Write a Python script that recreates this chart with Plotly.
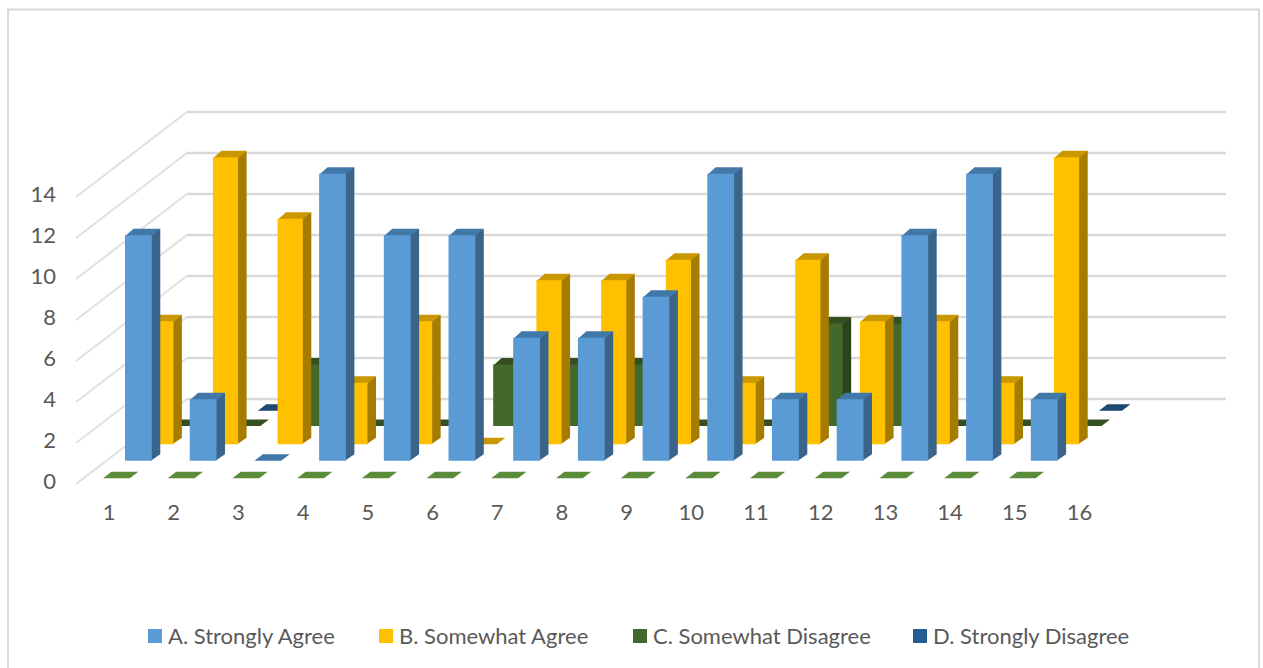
import plotly.graph_objects as go

# Survey responses per question, one list per answer option
QUESTIONS = list(range(1, 17))
STRONGLY_AGREE = [11, 3, 0, 14, 11, 11, 6, 6, 8, 14, 3, 3, 11, 14, 3]
SOMEWHAT_AGREE = [6, 14, 11, 3, 6, 0, 8, 8, 9, 3, 9, 6, 6, 3, 14]
SOMEWHAT_DISAGREE = [0, 0, 3, 0, 0, 3, 3, 3, 0, 0, 5, 5, 0, 0, 0]
STRONGLY_DISAGREE = [0, 0, 3, 0, 0, 0, 0, 0, 0, 0, 0, 0, 0, 0, 0]
NO_ANSWER = [0] * 15
Y_TICKS = [0, 2, 4, 6, 8, 10, 12, 14]

SERIES_NAMES = ["A. Strongly Agree", "B. Somewhat Agree", "C. Somewhat Disagree", "D. Strongly Disagree"]

# Plot area on the page, and pixels per axis unit
LEFT, RIGHT, TOP, BOTTOM = 75, 1226, 100, 484
X_UNIT, Y_UNIT = 64.7, 20.5
FIRST_X = 109
FONT = "Lato"
TEXT = "#595959"

X_RANGE = [1 + (LEFT - FIRST_X) / X_UNIT, 1 + (RIGHT - FIRST_X) / X_UNIT]
Y_RANGE = [0, (BOTTOM - TOP) / Y_UNIT]

# Oblique projection: how far one pixel of rise into the chart moves along each axis
SHEAR = 1.305
ROW_DEPTH = 6.5
FLOOR_DEPTH = 85


def project(x, v, depth):
    """Move a point (category, value) back by depth, given in pixels of rise."""
    return x + depth * SHEAR / X_UNIT, v + depth / Y_UNIT


def polygons(corner_lists):
    xs, ys = [], []
    for corners in corner_lists:
        for x, y in corners + corners[:1]:
            xs.append(x)
            ys.append(y)
        xs.append(None)
        ys.append(None)
    return xs, ys


def face_trace(corner_lists, colour, name):
    xs, ys = polygons(corner_lists)
    return go.Scatter(
        x=xs, y=ys, mode="none", fill="toself", fillcolor=colour,
        name=name, showlegend=False, hoverinfo="skip",
    )


def bar_faces(values, row, half_px, nudge_px):
    front, side, top = [], [], []
    for i, v in enumerate(values):
        # Bars sit in the middle of their category, pushed back by their row
        x_mid = QUESTIONS[i] + nudge_px / X_UNIT
        left = x_mid - half_px / X_UNIT
        right = x_mid + half_px / X_UNIT
        d0, d1 = row, row + ROW_DEPTH
        tl = project(left, v, d0)
        tr = project(right, v, d0)
        bl = project(left, v, d1)
        br = project(right, v, d1)
        if v > 0:
            # The side and top run 1px under the front face so no seam shows between them
            under_x = right - 1 / X_UNIT
            under_v = v - 1 / Y_UNIT
            front.append([project(left, 0, d0), project(right, 0, d0), tr, tl])
            side.append([project(under_x, 0, d0), project(right, 0, d1), br, project(under_x, v, d0)])
            top.append([project(left, under_v, d0), project(right, under_v, d0), br, bl])
        else:
            top.append([tl, tr, br, bl])
    return front, side, top


# Rows from the back of the chart to the front, so nearer bars paint over farther ones.
# Farther rows are drawn a little narrower.
ROWS = [
    (STRONGLY_DISAGREE, 73.3, 11.5, 0, "#255e91", "#183d5e", "#1d4970", SERIES_NAMES[3]),
    (SOMEWHAT_DISAGREE, 58.0, 13.0, -2, "#43682b", "#2b431c", "#344f21", SERIES_NAMES[2]),
    (SOMEWHAT_AGREE, 39.7, 12.6, 0, "#ffc000", "#a67c00", "#c99700", SERIES_NAMES[1]),
    (STRONGLY_AGREE, 23.3, 13.4, -1, "#5b9bd5", "#3a6489", "#4178a8", SERIES_NAMES[0]),
    (NO_ANSWER, 5.7, 13.4, 0, "#70ad47", "#49702e", "#5b8c39", "No answer"),
]

fig = go.Figure()

# Gridlines on the left wall and the back wall
wall_x, wall_y, back_x, back_y = [], [], [], []
for tick in Y_TICKS:
    x0, y0 = X_RANGE[0] + 1 / X_UNIT, tick
    x1, y1 = project(x0, y0, FLOOR_DEPTH)
    wall_x += [x0, x1, None]
    wall_y += [y0, y1, None]
    back_x += [x1, X_RANGE[1], None]
    back_y += [y1, y1, None]
fig.add_trace(go.Scatter(x=wall_x, y=wall_y, mode="lines", line=dict(color="#e0e0e0", width=2),
                         showlegend=False, hoverinfo="skip"))
fig.add_trace(go.Scatter(x=back_x, y=back_y, mode="lines", line=dict(color="#d9d9d9", width=2.5),
                         showlegend=False, hoverinfo="skip"))

for values, row, half_px, nudge_px, front_col, side_col, top_col, name in ROWS:
    front, side, top = bar_faces(values, row, half_px, nudge_px)
    fig.add_trace(face_trace(side, side_col, name))
    fig.add_trace(face_trace(top, top_col, name))
    fig.add_trace(face_trace(front, front_col, name))


def page_x(px):
    return (px - LEFT) / (RIGHT - LEFT)


def page_y(px):
    return (BOTTOM - px) / (BOTTOM - TOP)


# Key under the chart
LEGEND_COLOURS = ["#5b9bd5", "#ffc000", "#43682b", "#255e91"]
LEGEND_STARTS = [148, 379, 633, 913]
shapes = [
    dict(type="rect", xref="paper", yref="paper", x0=page_x(8), x1=page_x(1259),
         y0=page_y(675), y1=page_y(9.5), line=dict(color="#d9d9d9", width=2), fillcolor="rgba(0,0,0,0)",
         layer="below"),
]
annotations = []
for label, colour, start in zip(SERIES_NAMES, LEGEND_COLOURS, LEGEND_STARTS):
    shapes.append(dict(type="rect", xref="paper", yref="paper", x0=page_x(start), x1=page_x(start + 14),
                       y0=page_y(643), y1=page_y(629), fillcolor=colour, line=dict(width=0)))
    annotations.append(dict(text=label, xref="paper", yref="paper", x=page_x(start + 18), y=page_y(635),
                            xanchor="left", yanchor="middle", showarrow=False,
                            font=dict(family=FONT, size=22, color=TEXT)))

fig.update_layout(
    width=1263, height=668, autosize=False,
    margin=dict(l=LEFT, r=1263 - RIGHT, t=TOP, b=668 - BOTTOM),
    paper_bgcolor="white", plot_bgcolor="white",
    showlegend=False, shapes=shapes, annotations=annotations,
    xaxis=dict(range=X_RANGE, tickmode="array", tickvals=QUESTIONS, ticktext=[str(q) for q in QUESTIONS],
               showgrid=False, zeroline=False, showline=False, ticks="", ticklabelstandoff=13,
               tickfont=dict(family=FONT, size=22, color=TEXT)),
    yaxis=dict(range=Y_RANGE, tickmode="array", tickvals=Y_TICKS, ticktext=[str(t) for t in Y_TICKS],
               showgrid=False, zeroline=False, showline=False, ticks="", ticklabelstandoff=18,
               ticklabelshift=-3, tickfont=dict(family=FONT, size=22, color=TEXT)),
)

fig.write_html("out.html")
